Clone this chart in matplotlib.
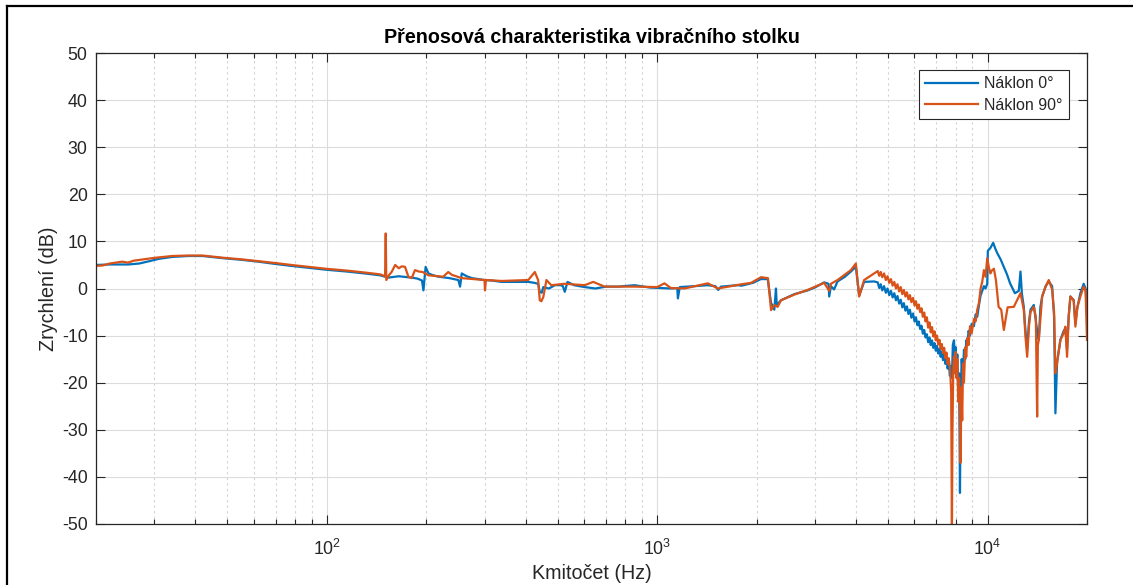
import matplotlib
matplotlib.use("Agg")
import matplotlib.pyplot as plt
from matplotlib.lines import Line2D
from matplotlib.ticker import LogLocator, NullFormatter

# ---- measured transfer characteristic, tilt 0 deg ----
freq_0 = [
    20, 22, 25, 27, 29, 31, 34, 38, 42, 49, 55, 62, 70, 78, 88, 99, 115, 130, 145,
    150, 153, 157, 165, 175, 181, 188, 194, 196, 199, 203, 210, 218, 235, 250, 253,
    256, 265, 275, 300, 315, 338, 380, 407, 425, 436, 441, 447, 452, 470, 490, 510,
    518, 525, 535, 560, 603, 650, 700, 761, 854, 950, 1100, 1150, 1155, 1170, 1300,
    1420, 1500, 1530, 1560, 1750, 1800, 1950, 2060, 2160, 2210, 2262, 2288, 2300,
    2369, 2600, 2853, 3000, 3202, 3300, 3316, 3356, 3430, 3515, 3700, 3856, 3993,
    4086, 4230, 4534,
    4650, 4700, 4750, 4800, 4861, 4920, 4980, 5040, 5100, 5160,
    5220, 5280, 5337, 5400, 5460, 5520, 5580, 5640, 5700, 5760,
    5820, 5880, 5950, 6010, 6070, 6130, 6190, 6250, 6310, 6370,
    6430, 6490, 6550, 6610, 6670, 6730, 6790, 6850, 6910, 6970,
    7030, 7090, 7150, 7211, 7270, 7330, 7390, 7450, 7510, 7570,
    7630, 7690, 7740, 7800, 7850, 7912, 7960, 8006, 8050, 8099,
    8150, 8200, 8250, 8300, 8350, 8420, 8482, 8560, 8620, 8683,
    8760, 8850, 8950, 9093, 9200, 9307, 9420, 9526, 9640, 9748,
    9860, 9977,
    10020, 10200, 10400, 10550, 10700, 10950, 11200, 11450, 11700, 12100, 12434,
    12580, 12700, 12873, 13025, 13179, 13350, 13490, 13804, 13950, 14129, 14293,
    14450, 14630, 15000, 15322, 15682, 15900, 16048, 16237, 16617, 17000, 17203,
    17406, 17600, 17814, 18230, 18445, 18700, 19099, 19543, 19800, 20000,
]
gain_0 = [
    5.0, 5.1, 5.1, 5.3, 5.8, 6.3, 6.7, 6.9, 6.9, 6.4, 6.1, 5.7, 5.2, 4.8, 4.4, 4.0, 3.6, 3.2, 2.8,
    2.5, 2.3, 2.4, 2.6, 2.4, 2.3, 2.1, 1.7, -0.4, 4.6, 3.2, 2.8, 2.5, 2.2, 1.8, 0.4,
    3.2, 2.6, 2.2, 1.8, 1.7, 1.4, 1.4, 1.4, 1.2, 1.0, -0.7, -0.9, 0.3, 0.0, 0.7, 0.7,
    0.5, -0.7, 1.4, 0.7, 0.3, 0.0, 0.4, 0.4, 0.7, 0.2, 0.0, 0.1, -2.1, 0.3, 0.5,
    0.7, 0.5, -0.3, 0.4, 0.7, 0.6, 1.2, 2.0, 2.0, -3.0, -4.5, 0.0, -3.5,
    -2.5, -1.2, -0.4, 0.2, 1.3, 1.0, -1.7, 0.5, -0.2, 1.5, 2.5, 3.6, 4.6,
    -1.5, 1.4, 1.5,
    1.3, 0.1, 0.9, -0.4, 0.5, -0.9, 0.0, -1.4, -0.5, -1.9,
    -1.0, -2.5, -1.6, -3.2, -2.4, -4.0, -3.1, -4.7, -3.8, -5.4,
    -4.5, -6.2, -5.3, -7.0, -6.1, -7.8, -7.0, -8.6, -7.9, -9.6,
    -8.8, -10.4, -9.7, -11.4, -10.4, -12.0, -11.0, -12.6, -11.6, -13.2,
    -12.2, -13.8, -12.8, -14.5, -13.4, -15.2, -14.0, -16.0, -14.8, -17.0,
    -15.5, -18.5, -16.5, -19.0, -12.0, -11.0, -14.5, -12.5, -17.0, -14.0,
    -22.0, -18.0, -43.4, -22.0, -15.0, -19.0, -13.0, -15.0, -11.0, -12.0,
    -9.0, -10.0, -7.5, -8.0, -5.5, -6.0, -3.5, -1.5, -0.5, 0.5,
    0.0, 1.0,
    8.0, 8.6, 9.7, 8.5, 7.5, 6.2, 4.6, 3.0, 1.1, -1.0, -0.5,
    3.6, -1.0, -3.9, -9.0, -13.0, -7.0, -4.5, -3.5, -6.0, -9.0, -10.9,
    -4.0, -1.7, 0.5, 1.5, 0.5, -6.0, -26.5, -15.5, -10.9, -9.0, -8.5,
    -13.0, -6.0, -1.7, -2.5, -7.5, -4.0, -1.0, 1.0, 0.0, -5.0,
]

# ---- measured transfer characteristic, tilt 90 deg ----
freq_90 = [
    20, 21, 22, 23, 24, 25, 26, 28, 30, 34, 38, 42, 49, 55, 62, 70, 78, 88, 99, 115,
    130, 145, 150, 150.7, 151.3, 154, 157, 161, 165, 168.5, 172.4, 176.5, 180.6,
    184.8, 190, 195, 203, 225, 233, 239, 256, 300, 301, 303, 338, 407, 426, 436,
    441, 446, 452, 462, 478, 525, 603, 640, 693, 761, 854, 1000, 1052, 1100, 1209,
    1423, 1526, 1800, 1923, 2062, 2164, 2211, 2262, 2315, 2369, 2600, 2853, 3202,
    3316, 3356, 3515, 3856, 3993, 4086, 4230, 4534,
    4650, 4700, 4750, 4800, 4861, 4920, 4980, 5040, 5100, 5160,
    5220, 5280, 5337, 5400, 5460, 5520, 5580, 5640, 5700, 5760,
    5820, 5880, 5950, 6010, 6070, 6130, 6190, 6250, 6310, 6370,
    6430, 6490, 6550, 6610, 6670, 6730, 6790, 6850, 6910, 6970,
    7030, 7090, 7150, 7211, 7270, 7330, 7390, 7450, 7510, 7570,
    7630, 7700, 7760, 7800, 7830, 7870, 7912, 7960, 8006, 8050,
    8099, 8150, 8200, 8250, 8288, 8330, 8380, 8430, 8482, 8560,
    8620, 8683, 8760, 8850, 8950, 9093, 9200, 9307, 9420, 9526,
    9640, 9748, 9860, 9977,
    10093, 10200, 10300, 10450, 10600, 10800, 11000, 11202, 11500, 12009, 12434,
    12580, 12873, 13025, 13179, 13350, 13490, 13804, 14000, 14129, 14200, 14293,
    14630, 15000, 15322, 15682, 15900, 16048, 16237, 16617, 17000, 17203, 17406,
    17600, 17814, 18230, 18445, 18700, 19099, 19543, 19800, 20000,
]
gain_90 = [
    4.8, 4.9, 5.3, 5.5, 5.7, 5.5, 5.9, 6.2, 6.5, 6.9, 7.0, 7.0, 6.5, 6.2, 5.8, 5.4, 5.0, 4.6, 4.2, 3.8,
    3.4, 3.0, 2.6, 11.7, 1.8, 2.8, 3.5, 5.0, 4.3, 4.7, 4.6, 2.5, 2.2,
    3.9, 3.6, 3.5, 2.8, 2.5, 3.5, 2.9, 2.2, 1.8, -0.4, 1.8, 1.6, 1.8, 3.5, 1.8,
    -2.5, -2.7, -1.8, 1.8, 0.7, 1.0, 0.7, 1.4, 0.4, 0.4, 0.4, 0.3, 1.1, 0.1, 0.0,
    1.1, 0.0, 0.9, 1.2, 2.4, 2.2, -4.6, -3.5, -3.9, -2.5, -1.3, -0.3, 1.2,
    -0.5, 1.0, 1.8, 3.9, 5.3, -1.7, 1.8, 3.2,
    3.7, 2.7, 3.5, 2.4, 3.2, 1.8, 2.6, 1.2, 2.0, 0.6,
    1.4, 0.0, 0.9, -0.6, 0.3, -1.2, -0.3, -1.7, -0.8, -2.3,
    -1.4, -2.9, -2.0, -3.6, -2.7, -4.3, -3.4, -5.0, -4.2, -6.0,
    -5.1, -7.0, -6.1, -8.3, -7.2, -9.3, -8.2, -10.2, -9.1, -11.0,
    -10.0, -11.9, -10.9, -12.8, -11.8, -13.7, -12.6, -14.8, -13.6, -16.0,
    -14.8, -17.0, -22.0, -52.0, -30.0, -18.0, -14.5, -18.0, -13.5, -19.0,
    -15.0, -24.0, -19.0, -28.0, -37.0, -21.0, -28.0, -16.0, -20.0, -12.5,
    -14.5, -10.5, -12.0, -8.0, -9.5, -6.5, -7.0, -4.5, -3.0, 0.0,
    1.5, 3.9, 2.5, 6.4,
    4.5, 3.2, 3.8, 4.2, 1.8, -3.9, -4.5, -8.8, -4.0, -3.9, -1.7,
    -1.0, -4.5, -10.2, -14.5, -8.0, -5.0, -3.9, -6.0, -27.2, -12.0, -10.9,
    -1.7, 0.5, 1.8, -0.2, -5.0, -18.0, -15.8, -10.9, -9.5, -8.1, -14.5,
    -6.0, -1.7, -2.5, -8.1, -4.0, -1.7, 0.4, -0.5, -10.9,
]

series_labels = ["Náklon 0°", "Náklon 90°"]
title_text = "Přenosová charakteristika vibračního stolku"
x_label = "Kmitočet (Hz)"
y_label = "Zrychlení (dB)"
y_ticks = [-50, -40, -30, -20, -10, 0, 10, 20, 30, 40, 50]

plt.rcParams["font.family"] = ["Liberation Sans", "DejaVu Sans"]
plt.rcParams["axes.unicode_minus"] = False

ink = "#262626"
blue = "#0072BD"
orange = "#D95319"

W, H = 1133, 585
fig = plt.figure(figsize=(W / 100, H / 100), dpi=100)
fig.patch.set_facecolor("white")

ax_l, ax_r, ax_t, ax_b = 96, 1087, 53, 524
ax = fig.add_axes([ax_l / W, (H - ax_b) / H, (ax_r - ax_l) / W, (ax_b - ax_t) / H])

ax.plot(freq_0, gain_0, color=blue, lw=1.6, label=series_labels[0])
ax.plot(freq_90, gain_90, color=orange, lw=1.6, label=series_labels[1])

ax.set_xscale("log")
ax.set_xlim(20, 20000)
ax.set_ylim(-50, 50)
ax.set_yticks(y_ticks)
ax.xaxis.set_major_locator(LogLocator(base=10))
ax.xaxis.set_minor_locator(LogLocator(base=10, subs=range(2, 10)))
ax.xaxis.set_minor_formatter(NullFormatter())

ax.grid(True, which="major", color="#dcdcdc", lw=0.8, ls="-")
ax.grid(True, which="minor", axis="x", color="#d2d2d2", lw=0.8, ls=(0, (2, 3)))
ax.set_axisbelow(True)

for s in ax.spines.values():
    s.set_color(ink)
    s.set_linewidth(0.9)
ax.tick_params(which="both", direction="in", top=True, right=True, colors=ink,
               labelcolor=ink, labelsize=12.8, width=0.8)
ax.tick_params(which="major", length=6.5)
ax.tick_params(axis="x", which="major", pad=11)
ax.tick_params(axis="y", which="major", pad=6)
ax.tick_params(which="minor", length=3.3)

ax.set_title(title_text, fontsize=14.2, fontweight="bold", color="black", pad=7)
ax.set_xlabel(x_label, fontsize=14.2, color=ink, labelpad=3.5)
ax.set_ylabel(y_label, fontsize=14.2, color=ink, labelpad=3)

leg = ax.legend(loc="upper right", bbox_to_anchor=(1 - 18 / (ax_r - ax_l), 1 - 17 / (ax_b - ax_t)),
                fontsize=11.5, frameon=True, fancybox=False, framealpha=1,
                edgecolor=ink, handlelength=3.3, handletextpad=0.4,
                borderpad=0.4, labelspacing=0.4, borderaxespad=0)
leg.get_frame().set_linewidth(0.8)
for t in leg.get_texts():
    t.set_color(ink)

# outer frame (left and top edges)
fig.add_artist(Line2D([7 / W, 7 / W], [0, 1 - 6 / H], color="black", lw=1.6,
                      transform=fig.transFigure))
fig.add_artist(Line2D([7 / W, 1], [1 - 6 / H, 1 - 6 / H], color="black", lw=1.6,
                      transform=fig.transFigure))

fig.savefig("out.png", dpi=100, facecolor="white")
